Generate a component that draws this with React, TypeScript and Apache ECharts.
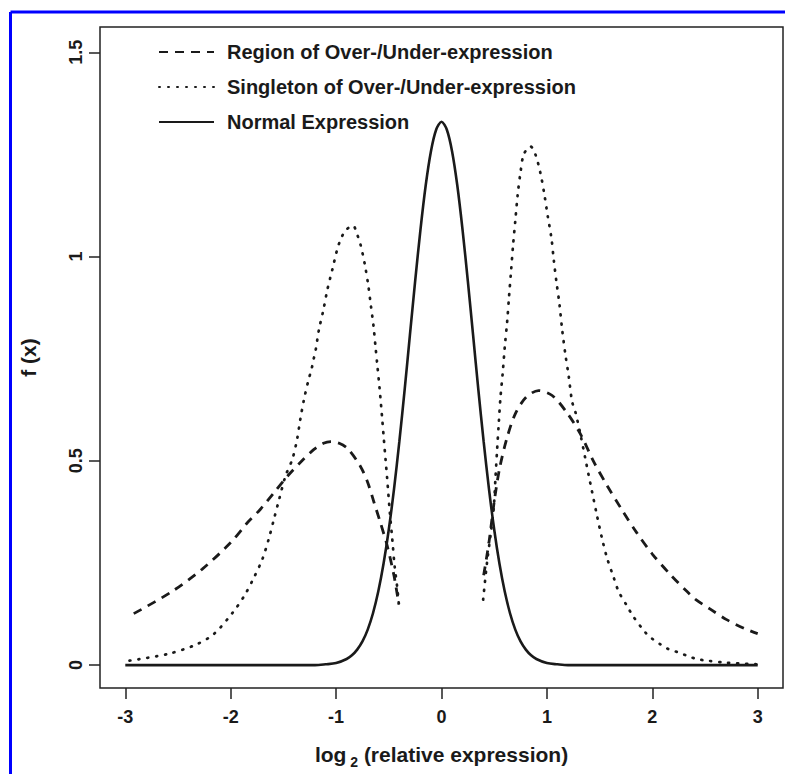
import React, { useEffect, useRef } from "react";
import * as echarts from "echarts";

const seriesNames = [
  "Region of Over-/Under-expression",
  "Singleton of Over-/Under-expression",
  "Normal Expression",
];

const xTicks = [-3, -2, -1, 0, 1, 2, 3];
const yTicks = [0, 0.5, 1, 1.5];

// Region (dashed), left lobe
const regionLeftX = [-2.92, -2.57, -2.27, -2.0, -1.84, -1.72, -1.59, -1.46, -1.34, -1.21, -1.12, -1.05, -0.97, -0.89, -0.77, -0.7, -0.64, -0.58, -0.515, -0.45, -0.405];
const regionLeftY = [0.126, 0.178, 0.235, 0.3, 0.349, 0.381, 0.422, 0.463, 0.496, 0.528, 0.543, 0.547, 0.543, 0.53, 0.487, 0.447, 0.398, 0.349, 0.292, 0.218, 0.149];
// Region (dashed), right lobe
const regionRightX = [0.4, 0.45, 0.5, 0.55, 0.62, 0.7, 0.8, 0.92, 1.05, 1.19, 1.32, 1.44, 1.57, 1.7, 1.85, 2.0, 2.17, 2.33, 2.41, 2.55, 2.7, 2.87, 3.0];
const regionRightY = [0.22, 0.3, 0.4, 0.48, 0.555, 0.615, 0.655, 0.672, 0.66, 0.618, 0.565, 0.5, 0.44, 0.385, 0.325, 0.272, 0.222, 0.18, 0.161, 0.137, 0.112, 0.09, 0.077];

// Singleton (dotted), left lobe
const singleLeftX = [-2.96, -2.6, -2.33, -2.16, -1.98, -1.87, -1.78, -1.7, -1.64, -1.59, -1.54, -1.48, -1.415, -1.37, -1.34, -1.305, -1.26, -1.235, -1.216, -1.194, -1.163, -1.12, -1.083, -1.036, -0.99, -0.957, -0.91, -0.84, -0.8, -0.768, -0.727, -0.695, -0.67, -0.645, -0.626, -0.607, -0.588, -0.562, -0.547, -0.531, -0.515, -0.49, -0.467, -0.445, -0.42, -0.405];
const singleLeftY = [0.011, 0.027, 0.05, 0.076, 0.129, 0.17, 0.214, 0.259, 0.308, 0.357, 0.406, 0.463, 0.504, 0.553, 0.601, 0.65, 0.7, 0.722, 0.746, 0.771, 0.821, 0.87, 0.919, 0.968, 1.017, 1.042, 1.064, 1.076, 1.054, 1.029, 0.98, 0.93, 0.88, 0.83, 0.779, 0.729, 0.679, 0.601, 0.553, 0.504, 0.455, 0.373, 0.308, 0.243, 0.19, 0.15];
// Singleton (dotted), right lobe
const singleRightX = [0.395, 0.433, 0.464, 0.496, 0.512, 0.528, 0.543, 0.559, 0.581, 0.6, 0.623, 0.641, 0.66, 0.679, 0.701, 0.723, 0.749, 0.78, 0.844, 0.891, 0.938, 0.976, 1.008, 1.043, 1.065, 1.09, 1.118, 1.144, 1.175, 1.207, 1.239, 1.27, 1.318, 1.365, 1.396, 1.428, 1.476, 1.523, 1.571, 1.633, 1.681, 1.76, 1.817, 1.934, 1.997, 2.076, 2.155, 2.25, 2.33, 2.42, 2.52, 2.7, 3.0];
const singleRightY = [0.16, 0.254, 0.316, 0.387, 0.458, 0.529, 0.591, 0.654, 0.716, 0.778, 0.841, 0.903, 0.965, 1.028, 1.09, 1.152, 1.205, 1.25, 1.27, 1.25, 1.205, 1.152, 1.099, 1.045, 0.992, 0.939, 0.886, 0.823, 0.761, 0.707, 0.645, 0.62, 0.565, 0.505, 0.465, 0.425, 0.365, 0.31, 0.262, 0.215, 0.18, 0.145, 0.12, 0.08, 0.065, 0.051, 0.039, 0.031, 0.023, 0.015, 0.011, 0.006, 0.002];

// Normal expression (solid)
const normalX = [-3, -1.5, -1.2, -1.1, -1.0, -0.9, -0.85, -0.8, -0.75, -0.7, -0.65, -0.6, -0.55, -0.5, -0.45, -0.4, -0.35, -0.3, -0.25, -0.2, -0.15, -0.1, -0.05, 0, 0.05, 0.1, 0.15, 0.2, 0.25, 0.3, 0.35, 0.4, 0.45, 0.5, 0.55, 0.6, 0.65, 0.7, 0.75, 0.8, 0.85, 0.9, 1.0, 1.1, 1.2, 1.5, 3];
const normalY = [0, 0, 0, 0.002, 0.005, 0.015, 0.024, 0.038, 0.058, 0.087, 0.127, 0.18, 0.248, 0.332, 0.432, 0.547, 0.673, 0.807, 0.94, 1.065, 1.174, 1.258, 1.311, 1.33, 1.311, 1.258, 1.174, 1.065, 0.94, 0.807, 0.673, 0.547, 0.432, 0.332, 0.248, 0.18, 0.127, 0.087, 0.058, 0.038, 0.024, 0.015, 0.005, 0.002, 0, 0, 0];

const zip = (xs: number[], ys: number[]) => xs.map((x, i) => [x, ys[i]]);

const FONT = "'Liberation Sans', Arial, Helvetica, sans-serif";
const INK = "#1a1a1a";

export default function App() {
  const ref = useRef<HTMLDivElement>(null);
  useEffect(() => {
    if (!ref.current) return;
    const chart = echarts.init(ref.current, null, { renderer: "svg" });
    const dashed = { color: INK, width: 2.8, type: [9, 7] as any };
    const dotted = { color: INK, width: 2.7, type: [1, 8] as any, cap: "round" as any };
    const solid = { color: INK, width: 2.6 };
    const base = { type: "line" as const, symbol: "none", smooth: 0.3, silent: true, color: INK };
    chart.setOption({
      animation: false,
      backgroundColor: "#ffffff",
      grid: {
        left: 100,
        top: 27,
        width: 683,
        height: 662,
        show: true,
        borderColor: "#222",
        borderWidth: 1.5,
        backgroundColor: "transparent",
      },
      legend: {
        orient: "vertical",
        left: 153,
        top: 36,
        itemWidth: 55,
        itemHeight: 14,
        itemGap: 13,
        data: seriesNames,
        selectedMode: false,
        itemStyle: { opacity: 0 },
        textStyle: {
          fontSize: 20,
          fontWeight: "bold",
          fontFamily: FONT,
          color: INK,
          lineHeight: 22,
          padding: [0, 0, 0, 8],
        },
      },
      xAxis: {
        type: "value",
        min: -3.24,
        max: 3.24,
        splitLine: { show: false },
        axisLine: { show: false, onZero: false },
        axisTick: {
          show: true,
          customValues: xTicks,
          length: 11,
          lineStyle: { color: "#222", width: 1.5 },
        },
        axisLabel: {
          customValues: xTicks,
          margin: 20,
          fontSize: 18,
          fontWeight: "bold",
          fontFamily: FONT,
          color: INK,
        },
        name: "{b|log}{s| 2}{b| (relative expression)}",
        nameLocation: "middle",
        nameGap: 56,
        nameTextStyle: {
          rich: {
            b: { fontSize: 21, fontWeight: "bold", fontFamily: FONT, color: INK, lineHeight: 24, verticalAlign: "top" },
            s: { fontSize: 14, fontWeight: "bold", fontFamily: FONT, color: INK, lineHeight: 14, verticalAlign: "top", padding: [11, 0, 0, 0] },
          },
        },
      },
      yAxis: {
        type: "value",
        min: -0.056,
        max: 1.562,
        splitLine: { show: false },
        axisLine: { show: false, onZero: false },
        axisTick: {
          show: true,
          customValues: yTicks,
          length: 11,
          lineStyle: { color: "#222", width: 1.5 },
        },
        axisLabel: {
          customValues: yTicks,
          rotate: 90,
          margin: 15,
          fontSize: 18,
          fontWeight: "bold",
          fontFamily: FONT,
          color: INK,
        },
        name: "f (x)",
        nameLocation: "middle",
        nameRotate: 90,
        nameGap: 61,
        nameTextStyle: { fontSize: 21, fontWeight: "bold", fontFamily: FONT, color: INK },
      },
      graphic: [
        { type: "line", shape: { x1: 10.5, y1: 12, x2: 785, y2: 12 }, style: { stroke: "#0000ff", lineWidth: 3 }, silent: true },
        { type: "line", shape: { x1: 10.5, y1: 12, x2: 10.5, y2: 774 }, style: { stroke: "#0000ff", lineWidth: 3 }, silent: true },
      ],
      series: [
        { ...base, name: seriesNames[0], data: zip(regionLeftX, regionLeftY), lineStyle: dashed },
        { ...base, name: seriesNames[0], data: zip(regionRightX, regionRightY), lineStyle: dashed },
        { ...base, name: seriesNames[1], data: zip(singleLeftX, singleLeftY), lineStyle: dotted },
        { ...base, name: seriesNames[1], data: zip(singleRightX, singleRightY), lineStyle: dotted },
        { ...base, name: seriesNames[2], data: zip(normalX, normalY), lineStyle: solid },
      ],
    });
    return () => chart.dispose();
  }, []);
  return (
    <div
      ref={ref}
      style={{ position: "fixed", left: 0, top: 0, width: 785, height: 774, background: "#fff" }}
    />
  );
}
